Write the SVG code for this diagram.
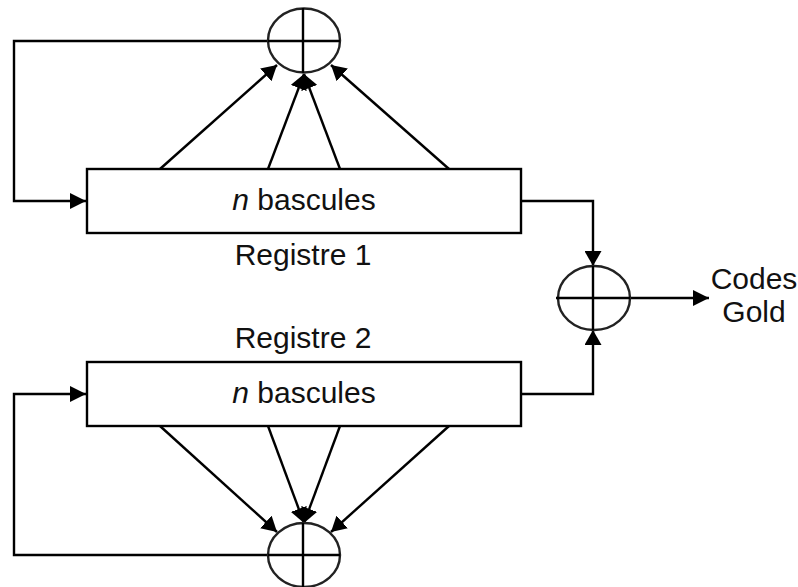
<svg xmlns="http://www.w3.org/2000/svg" width="798" height="587" viewBox="0 0 798 587">
<style>
.l{fill:none;stroke:#000;stroke-width:2.400}
.c{fill:none;stroke:#222;stroke-width:2.400}
.b{fill:#fff;stroke:#000;stroke-width:2.400}
text{font-family:"Liberation Sans",Arial,sans-serif;font-size:30px;fill:#111;text-anchor:middle}
</style>
<defs>
<marker id="a" viewBox="0 0 15 17" refX="15" refY="8.500" markerWidth="15" markerHeight="17" markerUnits="userSpaceOnUse" orient="auto"><path d="M0 0L15 8.500L0 17z" fill="#000"/></marker>
<marker id="h" viewBox="0 0 16 16" refX="16" refY="8" markerWidth="16" markerHeight="16" markerUnits="userSpaceOnUse" orient="auto"><path d="M0 0L16 8L0 16z" fill="#000"/></marker>
</defs>
<g id="connectors">
<path class="l" d="M268 41H14V201H86" marker-end="url(#h)"/>
<path class="l" d="M160 169L277 65" marker-end="url(#a)"/>
<path class="l" d="M268 169L304 74" marker-end="url(#a)"/>
<path class="l" d="M340 169L304 74" marker-end="url(#a)"/>
<path class="l" d="M449 169L331 65" marker-end="url(#a)"/>
<path class="l" d="M521 201H593V266" marker-end="url(#a)"/>
<path class="l" d="M521 394H593V330" marker-end="url(#a)"/>
<path class="l" d="M630 298H709" marker-end="url(#h)"/>
<path class="l" d="M268 555H14V394H86" marker-end="url(#h)"/>
<path class="l" d="M160 426L277 532" marker-end="url(#a)"/>
<path class="l" d="M268 426L304 523" marker-end="url(#a)"/>
<path class="l" d="M340 426L304 523" marker-end="url(#a)"/>
<path class="l" d="M449 426L331 532" marker-end="url(#a)"/>
</g>
<g id="xor-top"><ellipse class="c" cx="304" cy="40.500" rx="36" ry="32"/><path class="l" d="M268 41H340M303 8V73"/></g>
<g id="xor-bottom"><ellipse class="c" cx="304" cy="555" rx="36" ry="32"/><path class="l" d="M268 555H340M303 523V587"/></g>
<g id="xor-right"><ellipse class="c" cx="594" cy="298" rx="36" ry="32"/><path class="l" d="M556 298H630M593 266V330"/></g>
<g id="reg1"><rect class="b" x="87" y="169" width="434" height="64"/>
<text x="304" y="210"><tspan font-style="italic">n</tspan> bascules</text>
<text x="303" y="265">Registre 1</text></g>
<g id="reg2"><rect class="b" x="87" y="362" width="434" height="64"/>
<text x="304" y="403"><tspan font-style="italic">n</tspan> bascules</text>
<text x="303" y="348">Registre 2</text></g>
<g id="output"><text x="754" y="289">Codes</text><text x="754" y="322">Gold</text></g>
</svg>
